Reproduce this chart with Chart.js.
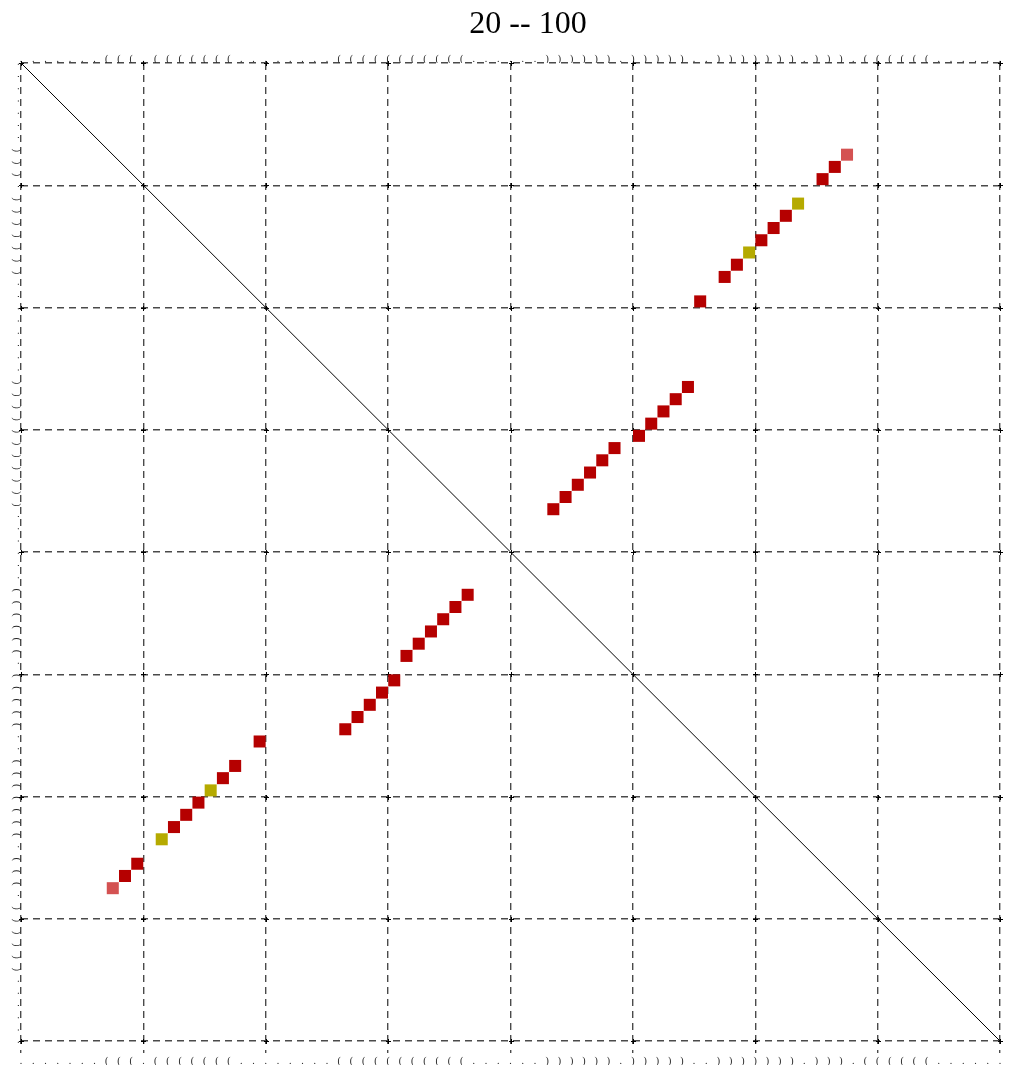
<!DOCTYPE html>
<html>
<head>
<meta charset="utf-8">
<script src="https://cdn.jsdelivr.net/npm/chart.js@4/dist/chart.umd.min.js"></script>
<style>
  html, body { margin: 0; padding: 0; background: #fff; }
  #wrap { width: 1012px; height: 1065px; }
</style>
</head>
<body>
<div id="wrap"><canvas id="c" width="1012" height="1065"></canvas></div>
<script>
// Window of the sequence shown on both axes
const titleText = '20 -- 100';
const firstPos = 20;
const lastPos = 100;

// Dot-bracket structure, one character per position 20..100
const structure = ('.......' + '(((' + '.' + '(((((((' + '........' + '(((((((((((' +
  '......' + '))))))' + '.' + ')))))' + '..' + ')))))))' + '.' + ')))' + '.' +
  '((((((' + '......').split('');

// Base pairs (i < j) and their colour class
const pairI = [27, 28, 29, 31, 32, 33, 34, 35, 36, 37, 39, 46, 47, 48, 49, 50, 51, 52, 53, 54, 55, 56];
const pairJ = [87, 86, 85, 83, 82, 81, 80, 79, 78, 77, 75, 74, 73, 72, 71, 70, 68, 67, 66, 65, 64, 63];
const pairClass = ['weak', 'strong', 'strong', 'alt', 'strong', 'strong', 'strong', 'alt', 'strong', 'strong', 'strong',
  'strong', 'strong', 'strong', 'strong', 'strong', 'strong', 'strong', 'strong', 'strong', 'strong', 'strong'];

// Grid spacing (positions)
const gridStep = 10;

const classColour = { strong: '#b50000', alt: '#b5aa00', weak: '#d45252' };

// Each pair occupies the cell [i, i+1] x [j, j+1]; lower triangle (i, j), upper triangle (j, i)
const cellPoints = [];
const cellColours = [];
pairI.forEach((i, k) => {
  const j = pairJ[k];
  cellPoints.push({ x: i + 0.5, y: j + 0.5 });
  cellColours.push(classColour[pairClass[k]]);
  cellPoints.push({ x: j + 0.5, y: i + 0.5 });
  cellColours.push(classColour[pairClass[k]]);
});

const isGridTick = (ctx) => ctx.tick && Math.round(ctx.tick.value) % gridStep === 0;
const gridColour = (ctx) => isGridTick(ctx) ? '#4a4a4a' : 'rgba(0,0,0,0)';
const tickLabel = (v) => structure[Math.round(v) - firstPos] || '';

const tickFont = { family: 'Liberation Serif', size: 10 };

// Small crosses where the dashed grid lines meet
const gridCrosses = {
  id: 'gridCrosses',
  beforeDatasetsDraw(chart) {
    const { ctx, scales } = chart;
    ctx.save();
    ctx.strokeStyle = '#000';
    ctx.lineWidth = 1;
    for (let a = firstPos; a <= lastPos; a += gridStep) {
      for (let b = firstPos; b <= lastPos; b += gridStep) {
        const px = Math.round(scales.x.getPixelForValue(a)) + 0.5;
        const py = Math.round(scales.y.getPixelForValue(b)) + 0.5;
        ctx.beginPath();
        ctx.moveTo(px - 2.5, py); ctx.lineTo(px + 2.5, py);
        ctx.moveTo(px, py - 2.5); ctx.lineTo(px, py + 2.5);
        ctx.stroke();
      }
    }
    ctx.restore();
  }
};

// Title sits a little right of the canvas centre
const titleShift = {
  id: 'titleShift',
  afterLayout(chart) {
    const t = chart.titleBlock;
    if (t) { t.left += 56; }
  }
};

new Chart(document.getElementById('c'), {
  type: 'scatter',
  data: {
    datasets: [
      {
        label: 'pairs',
        data: cellPoints,
        pointStyle: 'rect',
        pointRadius: 8.5,
        pointHoverRadius: 8.5,
        pointBorderWidth: 0,
        pointBackgroundColor: cellColours,
        order: 2
      },
      {
        label: 'diagonal',
        data: [{ x: firstPos, y: firstPos }, { x: lastPos, y: lastPos }],
        showLine: true,
        borderColor: '#000',
        borderWidth: 1,
        pointRadius: 0,
        order: 1
      }
    ]
  },
  options: {
    responsive: false,
    animation: false,
    events: [],
    layout: { padding: { left: 0, right: 12, top: 0, bottom: 0 } },
    plugins: {
      legend: { display: false },
      tooltip: { enabled: false },
      title: {
        display: true,
        text: titleText,
        color: '#000',
        font: { family: 'Liberation Serif', size: 32, weight: 'normal', lineHeight: 1 },
        padding: { top: 9, bottom: 7 }
      }
    },
    scales: {
      x: {
        type: 'linear',
        position: 'bottom',
        min: firstPos,
        max: lastPos,
        afterFit(scale) { scale.height = 24; },
        border: { display: false, dash: [7, 5] },
        grid: {
          color: gridColour,
          lineWidth: 1.4,
          drawTicks: true,
          tickLength: 12,
          tickColor: gridColour,
          tickBorderDash: [3, 6]
        },
        ticks: {
          stepSize: 1,
          autoSkip: false,
          maxRotation: 0,
          minRotation: 0,
          padding: 2,
          color: '#222',
          font: tickFont,
          callback: tickLabel
        }
      },
      x2: {
        type: 'linear',
        position: 'top',
        display: true,
        min: firstPos,
        max: lastPos,
        afterFit(scale) { scale.height = 15; },
        border: { display: false },
        grid: { display: false, drawTicks: false },
        ticks: {
          stepSize: 1,
          autoSkip: false,
          maxRotation: 0,
          minRotation: 0,
          padding: -2,
          color: '#222',
          font: tickFont,
          callback: tickLabel
        }
      },
      y: {
        type: 'linear',
        position: 'left',
        reverse: true,
        min: firstPos,
        max: lastPos,
        afterFit(scale) { scale.width = 21; },
        border: { display: false, dash: [7, 5] },
        grid: {
          color: gridColour,
          lineWidth: 1.4,
          drawTicks: false
        },
        ticks: {
          stepSize: 1,
          autoSkip: false,
          minRotation: 90,
          maxRotation: 90,
          padding: 5,
          color: '#222',
          font: tickFont,
          callback: tickLabel
        }
      }
    }
  },
  plugins: [gridCrosses, titleShift]
});
</script>
</body>
</html>
